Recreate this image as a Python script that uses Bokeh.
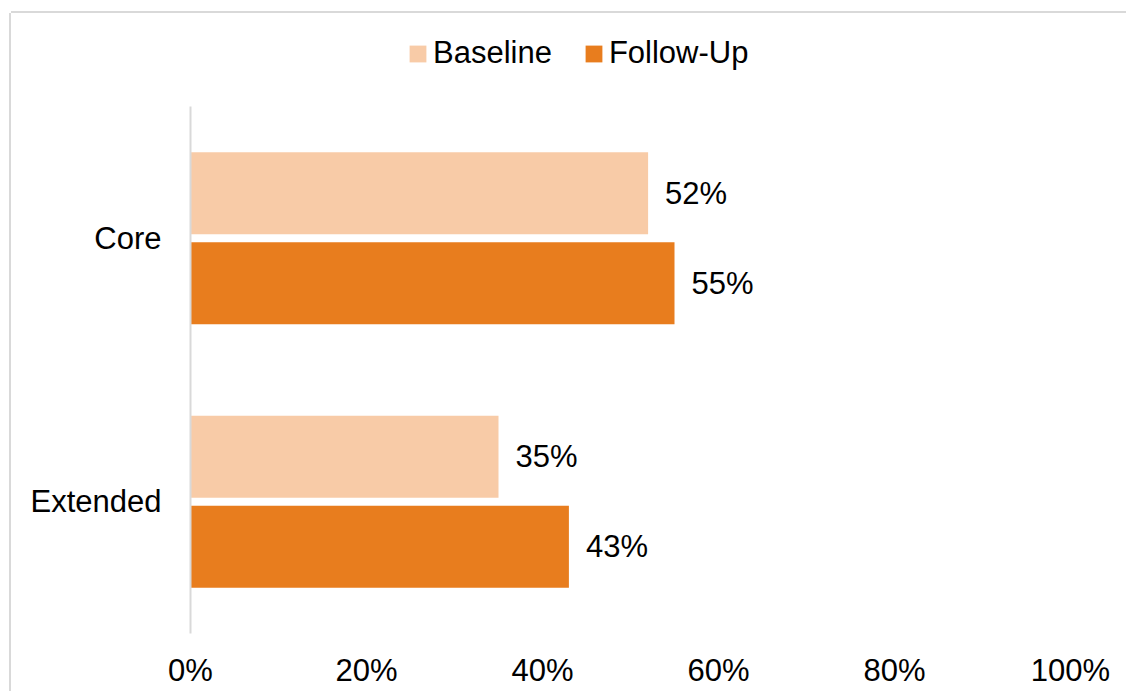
from bokeh.plotting import figure
from bokeh.layouts import column
from bokeh.models import (FactorRange, Range1d, Legend, LegendItem, ColumnDataSource,
                          NumeralTickFormatter, FixedTicker)
from bokeh.transform import dodge
from bokeh.embed import file_html
from bokeh.resources import INLINE
from bokeh.core.properties import value

categories = ["Core", "Extended"]
baseline = [0.52, 0.35]
follow_up = [0.55, 0.43]
series_names = ["Baseline", "Follow-Up"]
colors = ["#F8CBA7", "#E87D1E"]
x_ticks = [0, 0.2, 0.4, 0.6, 0.8, 1.0]

FONT = "Liberation Sans"
FS = "31px"
W = 1115

src = ColumnDataSource(dict(
    cat=categories,
    base=baseline,
    foll=follow_up,
    base_lbl=[f"{round(v*100)}%" for v in baseline],
    foll_lbl=[f"{round(v*100)}%" for v in follow_up],
))

# ---- legend strip (frame is aligned with the main chart's frame by the column) ----
lg = figure(width=W, height=93, output_backend="svg", toolbar_location=None,
            x_range=Range1d(0, 1), y_range=Range1d(0, 1),
            min_border=0, min_border_left=0, min_border_right=0,
            min_border_top=0, min_border_bottom=0)
lg.axis.visible = False
lg.grid.visible = False
lg.outline_line_color = None
# zero-size proxies: they only carry the series colours for the legend swatches
d1 = lg.hbar(y=[0], right=[0], left=[0], height=0, fill_color=colors[0], line_color=None)
d2 = lg.hbar(y=[0], right=[0], left=[0], height=0, fill_color=colors[1], line_color=None)
legend = Legend(items=[LegendItem(label=series_names[0], renderers=[d1]),
                       LegendItem(label=series_names[1], renderers=[d2])],
                orientation="horizontal", location=(217, 35),
                glyph_width=21, glyph_height=21, label_standoff=5, spacing=31,
                padding=0, margin=0, border_line_color=None, background_fill_alpha=0,
                label_text_font=FONT, label_text_font_size=FS, label_text_color="#000000")
lg.add_layout(legend, "center")

# ---- main chart ----
p = figure(width=W, height=585, output_backend="svg", toolbar_location=None,
           y_range=FactorRange(factors=categories[::-1]), x_range=Range1d(0, 1),
           min_border_left=179, min_border_right=56, min_border_top=0, min_border_bottom=58)

off = 0.171
bh = 0.311
p.hbar(y=dodge("cat", off, range=p.y_range), right="base", height=bh, left=0,
       source=src, fill_color=colors[0], line_color=None)
p.hbar(y=dodge("cat", -off, range=p.y_range), right="foll", height=bh, left=0,
       source=src, fill_color=colors[1], line_color=None)

p.text(x="base", y=dodge("cat", off, range=p.y_range), text="base_lbl", source=src,
       x_offset=17, text_baseline="middle", text_align="left",
       text_font=value(FONT), text_font_size=FS, text_color="#000000")
p.text(x="foll", y=dodge("cat", -off, range=p.y_range), text="foll_lbl", source=src,
       x_offset=17, text_baseline="middle", text_align="left",
       text_font=value(FONT), text_font_size=FS, text_color="#000000")

p.xgrid.visible = False
p.ygrid.visible = False
p.outline_line_color = None

xa = p.xaxis[0]
xa.ticker = FixedTicker(ticks=x_ticks)
xa.formatter = NumeralTickFormatter(format="0%")
xa.axis_line_color = None
xa.major_tick_line_color = None
xa.minor_tick_line_color = None
xa.major_tick_out = 0
xa.major_label_standoff = 19
xa.major_label_text_font = FONT
xa.major_label_text_font_size = FS
xa.major_label_text_color = "#000000"

ya = p.yaxis[0]
ya.axis_line_color = "#D9D9D9"
ya.axis_line_width = 2
ya.major_tick_line_color = None
ya.minor_tick_line_color = None
ya.major_tick_out = 0
ya.major_label_standoff = 29
ya.major_label_text_font = FONT
ya.major_label_text_font_size = FS
ya.major_label_text_color = "#000000"

layout = column(lg, p, spacing=0)
layout.margin = (13, 0, 0, 11)
layout.styles = {"box-shadow": "-2px 0 0 0 #D9D9D9, 0 -2px 0 0 #D9D9D9",
                 "background-color": "#FFFFFF"}

open("out.html", "w").write(file_html(layout, INLINE))
